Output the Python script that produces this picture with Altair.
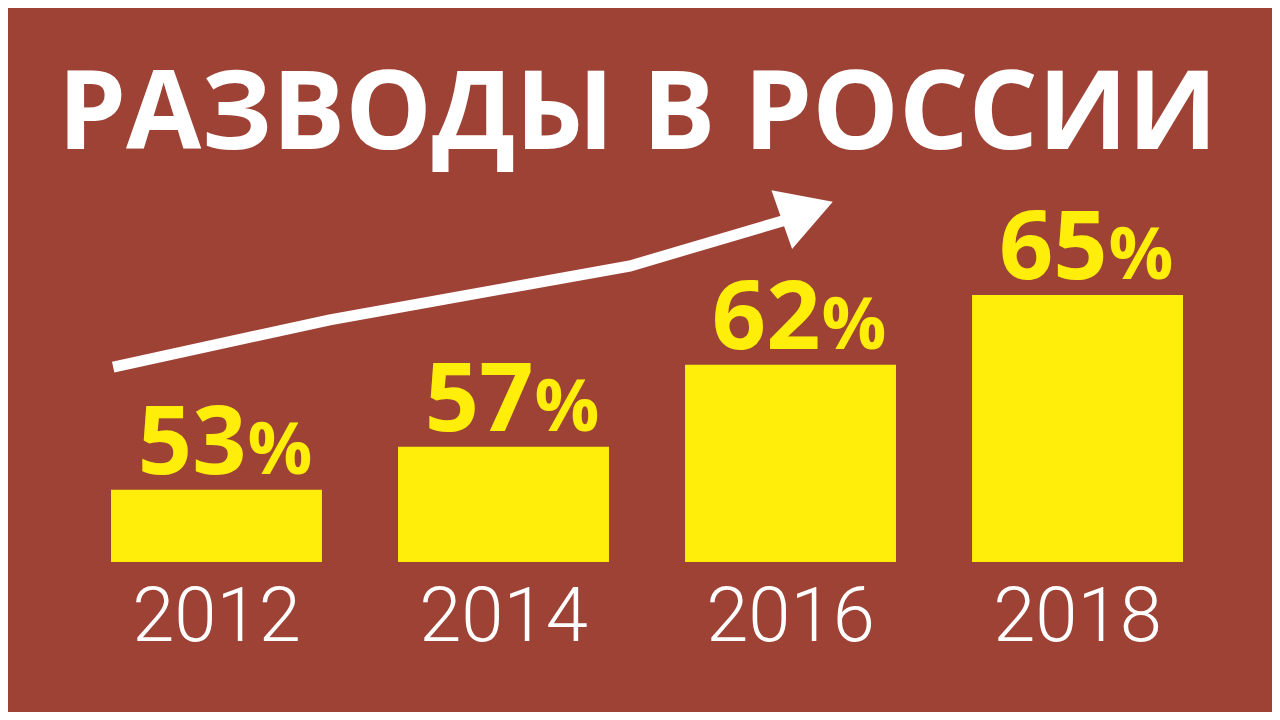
import altair as alt
import pandas as pd

# ---- data -------------------------------------------------------------
years = ["2012", "2014", "2016", "2018"]
divorce_pct = [53, 57, 62, 65]
pct_labels = ["53", "57", "62", "65"]

# trend arrow (annotation): x in years, y in % of chart height
arrow_year = [2011.28, 2012.79, 2014.88, 2015.98]
arrow_level = [49.0, 55.7, 63.35, 69.95]
arrow_head_year = [2016.117]
arrow_head_level = [71.21]

title_text = ["РАЗВОДЫ В РОССИИ"]

# ---- styles -----------------------------------------------------------
BG = "#9E4236"
YELLOW = "#FFEE0A"
W, H = 1264, 704

df = pd.DataFrame({"year": years, "pct": divorce_pct, "label": pct_labels})
arrow_df = pd.DataFrame({"ax": arrow_year, "ay": arrow_level,
                         "order": list(range(len(arrow_year)))})
head_df = pd.DataFrame({"ax": arrow_head_year, "ay": arrow_head_level})
title_df = pd.DataFrame({"t": title_text})

band_scale = alt.Scale(type="band", range=[103, 1175], paddingInner=0.265, paddingOuter=0)
pow_scale = alt.Scale(type="pow", exponent=6.4, domain=[0, 65], range=[554, 287])

x_band = alt.X("year:N", scale=band_scale, axis=None)
y_pow = alt.Y("pct:Q", scale=pow_scale, axis=None)

bars = alt.Chart(df).mark_bar(color=YELLOW).encode(x=x_band, y=y_pow)

nums = alt.Chart(df).mark_text(
    font="Open Sans", fontWeight="bold", fontSize=95, color=YELLOW,
    align="right", baseline="alphabetic", dx=30, dy=-16
).encode(x=x_band, y=y_pow, text="label:N")

pcts = alt.Chart(df).mark_text(
    font="Open Sans", fontWeight="bold", fontSize=72, color=YELLOW,
    align="left", baseline="alphabetic", dx=31, dy=-16
).encode(x=x_band, y=y_pow, text=alt.value("%"))

year_labels = alt.Chart(df).mark_text(
    font="Roboto", fontWeight=300, fontSize=76, color="white",
    align="center", baseline="alphabetic"
).encode(x=x_band, y=alt.value(633), text="year:N")

ax_scale = alt.Scale(domain=[2012, 2018], range=[208.5, 1069.5])
ay_scale = alt.Scale(domain=[0, 100], range=[704, 0])

arrow_line = alt.Chart(arrow_df).mark_line(
    color="white", strokeWidth=11, strokeCap="butt", strokeJoin="miter"
).encode(
    x=alt.X("ax:Q", scale=ax_scale, axis=None),
    y=alt.Y("ay:Q", scale=ay_scale, axis=None),
    order="order:Q",
)

arrow_head = alt.Chart(head_df).mark_point(
    shape="triangle-up", size=3900, angle=70.7, filled=True,
    color="white", opacity=1, strokeWidth=0
).encode(
    x=alt.X("ax:Q", scale=ax_scale, axis=None),
    y=alt.Y("ay:Q", scale=ay_scale, axis=None),
)

title = alt.Chart(title_df).mark_text(
    font="Open Sans", fontWeight="bold", fontSize=109, color="white",
    align="center", baseline="alphabetic"
).encode(x=alt.value(629.5), y=alt.value(141), text="t:N")

chart = alt.layer(
    bars, nums, pcts, year_labels, arrow_line, arrow_head, title
).resolve_scale(x="independent", y="independent").properties(
    width=W, height=H, background=BG, padding=0,
    autosize=alt.AutoSizeParams(type="none")
).configure_view(stroke=None)

chart.save("out.html", embed_options={"renderer": "svg", "actions": False})
